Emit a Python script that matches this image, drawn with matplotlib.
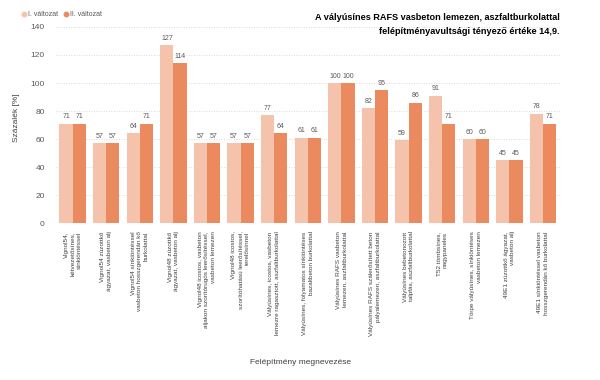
import matplotlib
matplotlib.use("Agg")
import matplotlib.pyplot as plt
from matplotlib.lines import Line2D
import numpy as np

plt.rcParams['font.family'] = ['Liberation Sans', 'DejaVu Sans']

categories = [
    "Vignol54,\nkétvezetősínes,\nsínkiöntéssel",
    "Vignol54 zúzottkő\nágyazat, vasbeton alj",
    "Vignol54 sínkiöntéssel\nvasbeton hosszgerendán kő\nburkolattal",
    "Vignol48 zúzottkő\nágyazat, vasbeton alj",
    "Vignol48 icostos, vasbeton\naljakon szorítórugós leerősítéssel,\nvasbeton lemezen",
    "Vignol48 icostos,\nszorítóhatású leerősítéssel,\nterelősínnel",
    "Vályúsínes, icostos, vasbeton\nlemezre ragasztott, aszfaltburkolattal",
    "Vályúsínes, folyamatos sínkiöntéses\nbazaltbeton burkolattal",
    "Vályúsínes RAFS vasbeton\nlemezen, aszfaltburkolattal",
    "Vályúsínes RAFS szálerősített beton\npályalemezen, aszfaltburkolattal",
    "Vályúsínes bebetonozott\ntalpfás, aszfaltburkolattal",
    "T52 tömbsínes,\nnagypaneles",
    "Törpe vályúsínes, sínkiöntéses\nvasbeton lemezen",
    "49E1 zúzottkő ágyazat,\nvasbeton alj",
    "49E1 sínkiöntéssel vasbeton\nhosszgerendán kő burkolattal",
]
series_names = ["I. változat", "II. változat"]
values_I = [71, 57, 64, 127, 57, 57, 77, 61, 100, 82, 59, 91, 60, 45, 78]
values_II = [71, 57, 71, 114, 57, 57, 64, 61, 100, 95, 86, 71, 60, 45, 71]
yticks = [0, 20, 40, 60, 80, 100, 120, 140]

c_light = "#F5C3AC"
c_dark = "#EB8A5E"
txt = "#595959"

fig = plt.figure(figsize=(6, 3.8), dpi=100)
ax = fig.add_axes([0.093, 0.413, 0.84, 0.516])

x = np.arange(len(categories))
w = 0.39
b1 = ax.bar(x - w / 2, values_I, w, color=c_light, zorder=2)
b2 = ax.bar(x + w / 2, values_II, w, color=c_dark, zorder=2)
for bars, vals in ((b1, values_I), (b2, values_II)):
    for r, v in zip(bars, vals):
        ax.text(r.get_x() + r.get_width() / 2, v + 2.5, str(v), ha='center', va='bottom',
                fontsize=5, color=txt)

ax.set_xlim(-0.5, len(categories) - 0.5)
ax.set_ylim(0, 140)
ax.set_yticks(yticks)
ax.yaxis.grid(True, linestyle=(0, (1, 2)), color="#D0D0D0", linewidth=0.6, zorder=0)
ax.tick_params(axis='y', length=0, labelsize=6, labelcolor=txt, pad=8)
ax.set_xticks(x)
ax.set_xticklabels(categories, rotation=90, fontsize=4.6, color="#404040",
                   ha='center', va='top', multialignment='right', linespacing=1.4)
ax.tick_params(axis='x', length=0, pad=6)
for s in ax.spines.values():
    s.set_visible(False)

fig.text(0.028, 0.69, "Százalék [%]", rotation=90, ha='center', va='center', fontsize=6, color="#404040")
fig.text(0.5, 0.045, "Felépítmény megnevezése", ha='center', va='center', fontsize=6, color="#404040")

fig.text(0.933, 0.935, "A vályúsínes RAFS vasbeton lemezen, aszfaltburkolattal\nfelépítményavultsági tényező értéke 14,9.",
         ha='right', va='center', fontsize=6.6, fontweight='bold', color='black',
         multialignment='right', linespacing=1.75)

handles = [Line2D([], [], marker='o', linestyle='none', markersize=3.2, color=c)
           for c in (c_light, c_dark)]
fig.legend(handles, series_names, loc='center left', bbox_to_anchor=(0.032, 0.962),
           ncol=2, frameon=False, fontsize=5, handlelength=0.5,
           handletextpad=0.4, columnspacing=0.8, borderaxespad=0, labelcolor=txt)

fig.savefig("out.png", dpi=100)
